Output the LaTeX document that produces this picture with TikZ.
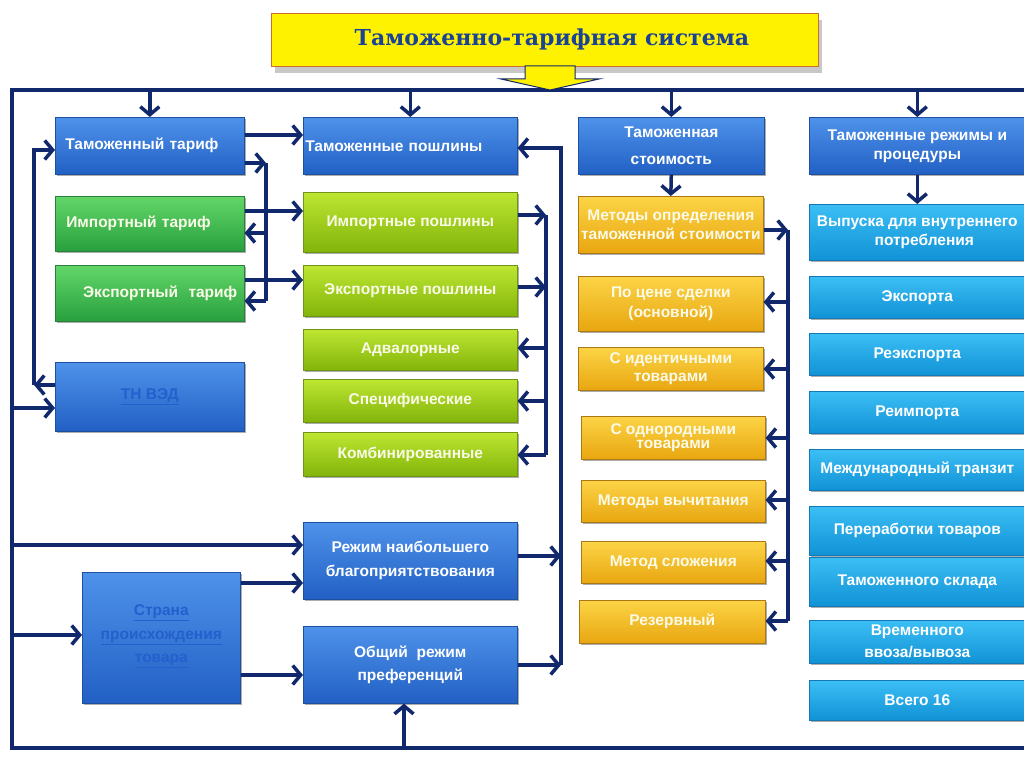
\documentclass[tikz,border=0pt]{standalone}
\usepackage{fontspec}
\setmainfont{Liberation Sans}
\newfontfamily\titlefont{DejaVu Serif}
\usetikzlibrary{arrows.meta,shadows}
\definecolor{navy}{RGB}{18,40,108}
\definecolor{blueT}{RGB}{78,146,234}
\definecolor{blueB}{RGB}{34,96,196}
\definecolor{blueD}{RGB}{30,80,160}
\definecolor{greenT}{RGB}{98,214,104}
\definecolor{greenB}{RGB}{40,160,62}
\definecolor{greenD}{RGB}{40,130,60}
\definecolor{limeT}{RGB}{190,230,50}
\definecolor{limeB}{RGB}{130,180,10}
\definecolor{limeD}{RGB}{110,150,20}
\definecolor{goldT}{RGB}{252,212,70}
\definecolor{goldB}{RGB}{232,166,16}
\definecolor{goldD}{RGB}{170,120,20}
\definecolor{cyanT}{RGB}{60,190,245}
\definecolor{cyanB}{RGB}{16,146,214}
\definecolor{cyanD}{RGB}{20,120,180}
\definecolor{linkblue}{RGB}{36,96,205}
\definecolor{titleblue}{RGB}{26,66,150}
\definecolor{titleborder}{RGB}{205,110,40}
\definecolor{paletext}{RGB}{250,250,232}
\tikzset{
  box/.style={anchor=north west, inner xsep=2pt, inner ysep=1pt, align=center,
    text=white, line width=0.6pt,
    font=\bfseries\fontsize{15.5}{19}\selectfont,
    drop shadow={shadow xshift=1.2pt, shadow yshift=-2pt, opacity=0.4, fill=black!80}},
  bluebox/.style={box, top color=blueT, bottom color=blueB, draw=blueD},
  greenbox/.style={box, top color=greenT, bottom color=greenB, draw=greenD, text=paletext},
  limebox/.style={box, top color=limeT, bottom color=limeB, draw=limeD, text=paletext},
  goldbox/.style={box, top color=goldT, bottom color=goldB, draw=goldD, text=paletext},
  cyanbox/.style={box, top color=cyanT, bottom color=cyanB, draw=cyanD},
  linktext/.style={text=linkblue},
  ln/.style={draw=navy, line width=3.5pt},
  arr/.style={ln, -{Straight Barb[length=8pt, width=19pt]}},
}
\begin{document}
\begin{tikzpicture}[x=1pt,y=-1pt]
\useasboundingbox (0,0) rectangle (1024,767);
\fill[white] (0,0) rectangle (1024,767);

% title
\node[anchor=north west, minimum width=547pt, minimum height=53pt, fill=yellow, draw=titleborder, line width=0.8pt,
  drop shadow={shadow xshift=4pt, shadow yshift=-7pt, opacity=0.3, fill=black!70},
  font=\titlefont\bfseries\fontsize{22}{26}\selectfont, text=titleblue] (title) at (271,13) {\hspace*{14pt}Таможенно-тарифная система};

% frame
\coordinate (fTL) at (12,90);
\coordinate (fBL) at (12,748);
\coordinate (fTR) at (1024,90);
\coordinate (fBR) at (1024,748);
\draw[ln] (fTR) -- (fTL) -- (fBL) -- (fBR);

% yellow arrow from title
\filldraw[fill=yellow, draw=navy, line width=1pt] (525,66) -- (575,66) -- (575,79) -- (599,79) -- (550,90) -- (501,79) -- (525,79) -- cycle;

% column 1
\node[bluebox, minimum width=189pt, minimum height=57pt, text width=169pt, inner xsep=10pt, align=left] (tt) at (55,117) {Таможенный тариф};
\node[greenbox, minimum width=189pt, minimum height=55pt, text width=167pt, inner xsep=11pt, align=left] (it) at (55,196) {Импортный тариф};
\node[greenbox, minimum width=189pt, minimum height=56pt, text width=175pt, inner xsep=7pt, align=right] (et) at (55,265) {Экспортный\ \ тариф};
\node[bluebox, minimum width=189pt, minimum height=69pt, linktext] (tnved) at (55,362) {\underline{ТН ВЭД}};
\node[bluebox, minimum width=158pt, minimum height=131pt, linktext, font=\bfseries\fontsize{15.5}{23.5}\selectfont] (strana) at (82,572) {\mbox{}\\[-15.5pt]\underline{Страна}\\\underline{происхождения}\\\underline{товара}};

% column 2
\node[bluebox, minimum width=214pt, minimum height=57pt, text width=210pt, align=left] (tp) at (303,117) {Таможенные пошлины};
\node[limebox, minimum width=214pt, minimum height=60pt] (ip) at (303,192) {Импортные пошлины};
\node[limebox, minimum width=214pt, minimum height=51pt] (ep) at (303,265) {Экспортные пошлины};
\node[limebox, minimum width=214pt, minimum height=41pt] (adv) at (303,329) {Адвалорные};
\node[limebox, minimum width=214pt, minimum height=43pt] (spec) at (303,379) {Специфические};
\node[limebox, minimum width=214pt, minimum height=44pt] (komb) at (303,432) {Комбинированные};
\node[bluebox, minimum width=214pt, minimum height=77pt, font=\bfseries\fontsize{15.5}{24}\selectfont] (mfn) at (303,522) {Режим наибольшего\\благоприятствования};
\node[bluebox, minimum width=214pt, minimum height=77pt, font=\bfseries\fontsize{15.5}{23}\selectfont] (gsp) at (303,626) {Общий\ \ режим\\преференций};

% column 3
\node[bluebox, minimum width=186pt, minimum height=57pt, font=\bfseries\fontsize{15.5}{27}\selectfont] (ts) at (578,117) {Таможенная\\стоимость};
\node[goldbox, minimum width=185pt, minimum height=57pt, inner xsep=0.5pt] (mo) at (578,196) {Методы определения\\таможенной стоимости};
\node[goldbox, minimum width=185pt, minimum height=55pt, font=\bfseries\fontsize{15.5}{20}\selectfont] (cena) at (578,276) {По цене сделки\\(основной)};
\node[goldbox, minimum width=185pt, minimum height=43pt, font=\bfseries\fontsize{15.5}{18}\selectfont] (ident) at (578,347) {С идентичными\\товарами};
\node[goldbox, minimum width=184pt, minimum height=43pt, font=\bfseries\fontsize{15.5}{14}\selectfont] (odnor) at (581,416) {С однородными\\товарами};
\node[goldbox, minimum width=184pt, minimum height=42pt] (vych) at (581,480) {Методы вычитания};
\node[goldbox, minimum width=184pt, minimum height=42pt] (slozh) at (581,541) {Метод сложения};
\node[goldbox, minimum width=186pt, minimum height=43pt] (rez) at (579,600) {Резервный};

% column 4
\node[bluebox, minimum width=216pt, minimum height=57pt] (reg) at (809,117) {Таможенные режимы и\\процедуры};
\node[cyanbox, minimum width=216pt, minimum height=56pt] (vyp) at (809,204) {Выпуска для внутреннего\\\hspace*{14pt}потребления};
\node[cyanbox, minimum width=216pt, minimum height=42pt] (exp) at (809,276) {Экспорта};
\node[cyanbox, minimum width=216pt, minimum height=42pt] (reexp) at (809,333) {Реэкспорта};
\node[cyanbox, minimum width=216pt, minimum height=42pt] (reimp) at (809,391) {Реимпорта};
\node[cyanbox, minimum width=216pt, minimum height=41pt] (tranz) at (809,449) {Международный транзит};
\node[cyanbox, minimum width=216pt, minimum height=49pt] (perer) at (809,506) {Переработки товаров};
\node[cyanbox, minimum width=216pt, minimum height=49pt] (sklad) at (809,557) {Таможенного склада};
\node[cyanbox, minimum width=216pt, minimum height=43pt, font=\bfseries\fontsize{15.5}{22}\selectfont] (vrem) at (809,620) {Временного\\ввоза/вывоза};
\node[cyanbox, minimum width=216pt, minimum height=40pt] (vsego) at (809,680) {Всего 16};

% down arrows from frame
\draw[arr] (tt.north |- fTL) -- (tt.north);
\draw[arr] (tp.north |- fTL) -- (tp.north);
\draw[arr] (ts.north |- fTL) -- (ts.north);
\draw[arr] (reg.north |- fTL) -- (reg.north);

% column 1 connectors
\draw[arr] (tt.east |- 0,135) -- (tp.west |- 0,135);
\coordinate (b1t) at (266,163);
\coordinate (b1b) at (266,301);
\draw[arr] (tt.east |- b1t) -- (b1t);
\draw[ln] (b1t) -- (b1b);
\draw[arr] (b1t |- 0,233) -- (it.east |- 0,233);
\draw[arr] (b1b) -- (et.east |- b1b);
\draw[arr] (it.east |- 0,211) -- (ip.west |- 0,211);
\draw[arr] (et.east |- 0,280) -- (ep.west |- 0,280);

\coordinate (b0t) at (34,150);
\coordinate (b0b) at (34,385);
\draw[arr] (tnved.west |- b0b) -- (b0b);
\draw[arr] (b0b) -- (b0t) -- (tt.west |- b0t);

\draw[arr] (fTL |- 0,408) -- (tnved.west |- 0,408);
\draw[arr] (fTL |- 0,545) -- (mfn.west |- 0,545);
\draw[arr] (fTL |- 0,635) -- (strana.west |- 0,635);
\draw[arr] (strana.east |- 0,583) -- (mfn.west |- 0,583);
\draw[arr] (strana.east |- 0,675) -- (gsp.west |- 0,675);
\coordinate (gb) at (404,748);
\draw[arr] (gb) -- (gb |- gsp.south);

% column 2 connectors
\coordinate (b2t) at (546,215);
\coordinate (b2b) at (546,455);
\draw[arr] (ip.east |- b2t) -- (b2t);
\draw[arr] (ep.east |- 0,287) -- (b2t |- 0,287);
\draw[ln] (b2t) -- (b2b);
\draw[arr] (b2t |- 0,348) -- (adv.east |- 0,348);
\draw[arr] (b2t |- 0,401) -- (spec.east |- 0,401);
\draw[arr] (b2b) -- (komb.east |- b2b);

\coordinate (b3t) at (561,148);
\coordinate (b3b) at (561,665);
\draw[arr] (mfn.east |- 0,556) -- (b3t |- 0,556);
\draw[arr] (gsp.east |- b3b) -- (b3b);
\draw[arr] (b3b) -- (b3t) -- (tp.east |- b3t);

% column 3 connectors
\draw[arr] (ts.south) -- (mo.north);
\coordinate (b4t) at (788,230);
\coordinate (b4b) at (788,621);
\draw[arr] (mo.east |- b4t) -- (b4t);
\draw[ln] (b4t) -- (b4b);
\draw[arr] (b4t |- 0,302) -- (cena.east |- 0,302);
\draw[arr] (b4t |- 0,369) -- (ident.east |- 0,369);
\draw[arr] (b4t |- 0,438) -- (odnor.east |- 0,438);
\draw[arr] (b4t |- 0,500) -- (vych.east |- 0,500);
\draw[arr] (b4t |- 0,561) -- (slozh.east |- 0,561);
\draw[arr] (b4b) -- (rez.east |- b4b);

% column 4 connector
\draw[arr] (reg.south) -- (vyp.north);
\end{tikzpicture}
\end{document}
